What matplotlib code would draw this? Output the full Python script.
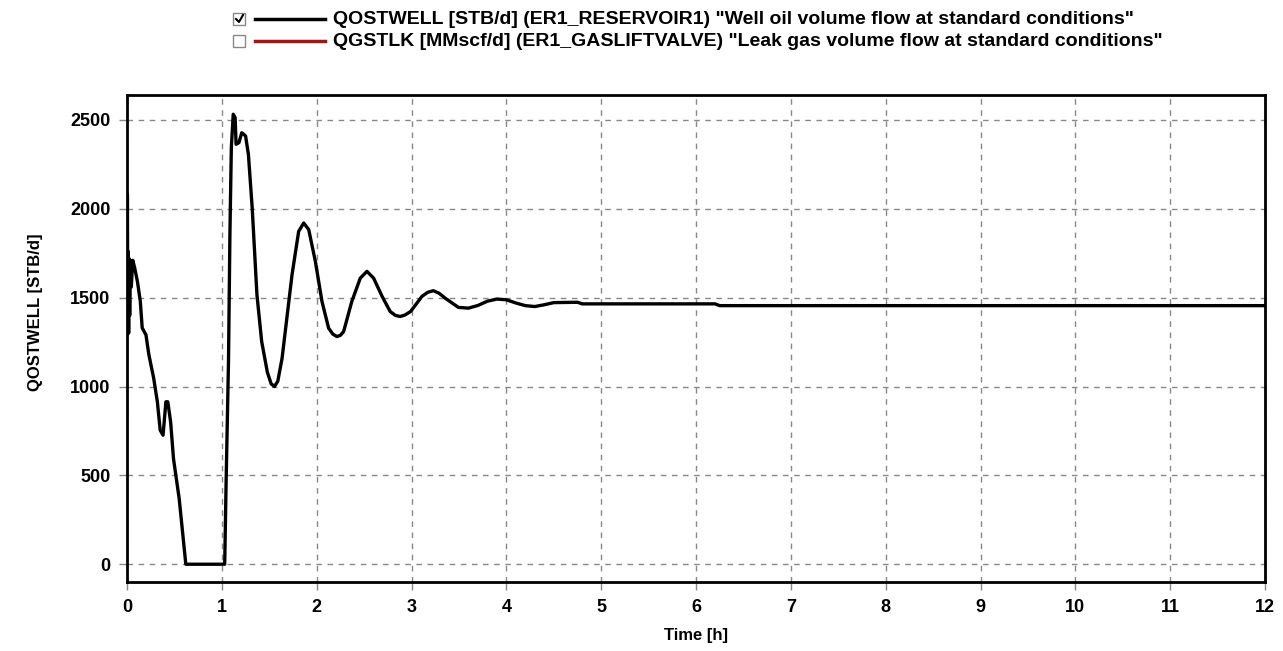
import matplotlib.pyplot as plt
from matplotlib.lines import Line2D
from matplotlib.patches import Rectangle

# Data
time_h = [0.0, 0.004, 0.008, 0.012, 0.017, 0.022, 0.028, 0.035, 0.045, 0.06, 0.08,
          0.11, 0.14, 0.16, 0.2, 0.23, 0.28, 0.32, 0.35, 0.38, 0.41, 0.43, 0.46,
          0.49, 0.55, 0.62, 0.8, 1.03, 1.045, 1.07, 1.085, 1.10, 1.12, 1.14, 1.15,
          1.18, 1.21, 1.25, 1.28, 1.32, 1.37, 1.42, 1.48, 1.52, 1.555, 1.59, 1.635,
          1.74, 1.81, 1.863, 1.916, 1.986, 2.056, 2.126, 2.17, 2.214, 2.25, 2.284,
          2.37, 2.46, 2.53, 2.6, 2.69, 2.775, 2.83, 2.88, 2.93, 2.99, 3.11, 3.17,
          3.23, 3.29, 3.355, 3.495, 3.6, 3.7, 3.8, 3.9, 4.0, 4.1, 4.2, 4.3, 4.4,
          4.5, 4.75, 4.8, 6.2, 6.25, 12.0]
qostwell = [1290, 2080, 1350, 1760, 1300, 1720, 1400, 1710, 1560, 1710, 1670,
            1590, 1480, 1330, 1290, 1180, 1050, 914, 754, 726, 914, 914, 800,
            594, 369, 0, 0, 0, 463, 1140, 1855, 2344, 2532, 2513, 2363,
            2372, 2428, 2410, 2306, 2005, 1516, 1253, 1080, 1015, 1000, 1030, 1159,
            1629, 1873, 1920, 1883, 1704, 1478, 1328, 1295, 1281, 1288, 1309,
            1478, 1610, 1648, 1610, 1507, 1422, 1400, 1394, 1402, 1422, 1507, 1530,
            1539, 1525, 1497, 1445, 1441, 1456, 1480, 1492, 1488, 1470, 1455, 1450,
            1460, 1472, 1474, 1465, 1465, 1455, 1455]

x_ticks = list(range(0, 13))
y_ticks = [0, 500, 1000, 1500, 2000, 2500]

legend_labels = [
    'QOSTWELL [STB/d] (ER1_RESERVOIR1) "Well oil volume flow at standard conditions"',
    'QGSTLK [MMscf/d] (ER1_GASLIFTVALVE) "Leak gas volume flow at standard conditions"',
]
legend_colors = ['black', '#a01515']
legend_checked = [True, False]

plt.rcParams['font.family'] = ['Liberation Sans Narrow', 'Liberation Sans', 'DejaVu Sans']
plt.rcParams['font.weight'] = 'bold'

fig = plt.figure(figsize=(12.83, 6.51), dpi=100)
ax = fig.add_axes([0.099, 0.106, 0.887, 0.748])

ax.plot(time_h, qostwell, color='black', linewidth=2.4, solid_joinstyle='round')

ax.set_xlim(0, 12)
ax.set_ylim(-100, 2640)
ax.set_xticks(x_ticks)
ax.set_yticks(y_ticks)
ax.tick_params(direction='out', length=6, color='#888888', width=1, labelsize=13, pad=6)
for lab in ax.get_xticklabels() + ax.get_yticklabels():
    lab.set_fontweight('bold')
ax.grid(True, color='#888888', linestyle=(0, (4, 4)), linewidth=1)
for sp in ax.spines.values():
    sp.set_linewidth(2)
    sp.set_color('black')

ax.set_xlabel('Time [h]', fontsize=12, fontweight='bold', labelpad=9)
fig.text(0.028, 0.52, 'QOSTWELL [STB/d]', rotation=90, fontsize=12, fontweight='bold',
         ha='center', va='center')

# Custom legend with checkboxes
W, H = 1283, 651
for i, (lab, col, chk) in enumerate(zip(legend_labels, legend_colors, legend_checked)):
    yc = 19 + i * 22
    fig.patches.append(Rectangle((233 / W, 1 - (yc + 6) / H), 12 / W, 12 / H,
                                 transform=fig.transFigure, facecolor='white',
                                 edgecolor='#888888', linewidth=1))
    if chk:
        fig.lines.append(Line2D([236 / W, 239 / W, 243 / W],
                                [1 - yc / H, 1 - (yc + 3) / H, 1 - (yc - 4) / H],
                                transform=fig.transFigure, color='black', linewidth=1.5))
    fig.lines.append(Line2D([255 / W, 325 / W], [1 - yc / H, 1 - yc / H],
                            transform=fig.transFigure, color=col, linewidth=2.5))
    fig.text(333 / W, 1 - yc / H, lab, fontsize=14, fontweight='bold',
             ha='left', va='center')

fig.savefig('out.png', dpi=100, facecolor='white')
